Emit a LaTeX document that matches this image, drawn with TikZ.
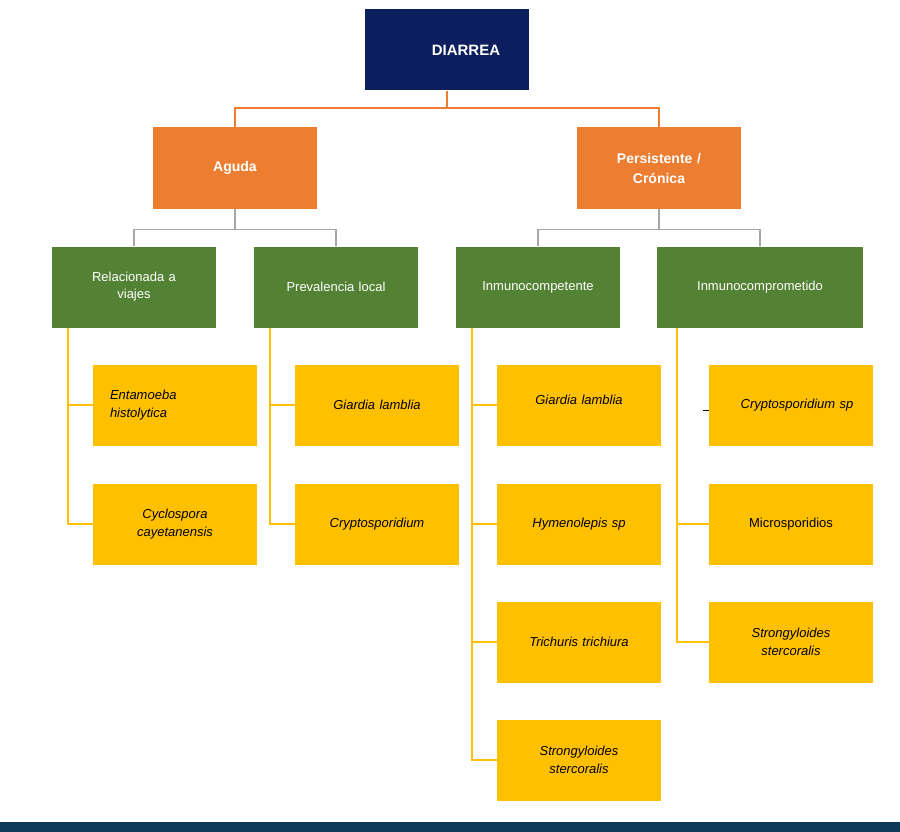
\documentclass[tikz,border=0pt]{standalone}
\usepackage{fontspec}
\setmainfont{Liberation Sans}
\begin{document}
\begin{tikzpicture}[x=1pt,y=-1pt,
  box/.style={draw=none,minimum width=164pt,minimum height=81pt,inner sep=2pt,align=center,text width=156pt,font=\fontsize{13}{17}\selectfont},
  top/.style={box,fill=navy,text=white,font=\fontsize{15}{19}\selectfont\bfseries},
  org/.style={box,fill=orng,text=white,font=\fontsize{14}{20}\selectfont\bfseries},
  grn/.style={box,fill=grn,text=white},
  yel/.style={box,fill=yel,text=black,font=\fontsize{13}{18}\selectfont\itshape},
  oline/.style={draw=orng,line width=1.3pt},
  gline/.style={draw=gray!70,line width=1.3pt},
  yline/.style={draw=yel,line width=1.3pt}]
\definecolor{navy}{HTML}{0C1E5E}
\definecolor{orng}{HTML}{ED7D31}
\definecolor{grn}{HTML}{548235}
\definecolor{yel}{HTML}{FFC000}
\definecolor{barc}{HTML}{0F3A5A}
\useasboundingbox (0,0) rectangle (900,832);
\fill[barc] (0,822) rectangle (900,832);
\node[top] (d) at (447,50) {\hspace*{38pt}DIARREA};
\node[org] (a) at (235,168) {Aguda};
\node[org] (p) at (659,168) {Persistente /\\ Crónica};
\node[grn] (g1) at (134,287) {Relacionada a\\ viajes};
\node[grn] (g2) at (336,287) {Prevalencia local};
\node[grn] (g3) at (538,287) {Inmunocompetente};
\node[grn,minimum width=206pt,text width=198pt] (g4) at (760,287) {Inmunocomprometido};
\node[yel,align=left,text width=130pt] (y11) at (175,405) {Entamoeba\\ histolytica};
\node[yel] (y12) at (175,524) {Cyclospora\\ cayetanensis};
\node[yel] (y21) at (377,405) {Giardia lamblia};
\node[yel] (y22) at (377,524) {Cryptosporidium};
\node[yel] (y31) at (579,405) {\raisebox{10pt}{Giardia lamblia}};
\node[yel] (y32) at (579,524) {Hymenolepis sp};
\node[yel] (y33) at (579,642) {Trichuris trichiura};
\node[yel] (y34) at (579,760) {Strongyloides\\ stercoralis};
\node[yel] (y41) at (791,405) {\hspace*{12pt}Cryptosporidium sp};
\node[yel,font=\fontsize{13}{18}\selectfont] (y42) at (791,524) {Microsporidios};
\node[yel] (y43) at (791,642) {Strongyloides\\ stercoralis};
\coordinate (od) at (447,108);
\draw[oline] (d.south) -- (od) -| (a.north);
\draw[oline] (od) -| (p.north);
\draw[gline] (a.south) -- ++(0,21) coordinate (ga) -| (g1.north);
\draw[gline] (ga) -| (g2.north);
\draw[gline] (p.south) -- ++(0,21) coordinate (gp) -| (g3.north);
\draw[gline] (gp) -| (g4.north);
\draw[yline] (68,328) |- (y12.west); \draw[yline] (68,405) -- (y11.west);
\draw[yline] (270,328) |- (y22.west); \draw[yline] (270,405) -- (y21.west);
\draw[yline] (472,328) |- (y34.west); \draw[yline] (472,405) -- (y31.west);
\draw[yline] (472,524) -- (y32.west); \draw[yline] (472,642) -- (y33.west);
\draw[yline] (677,328) |- (y43.west); \draw[yline] (677,524) -- (y42.west);
\draw[black,line width=1pt] (703,410) -- (709,410);
\end{tikzpicture}
\end{document}
